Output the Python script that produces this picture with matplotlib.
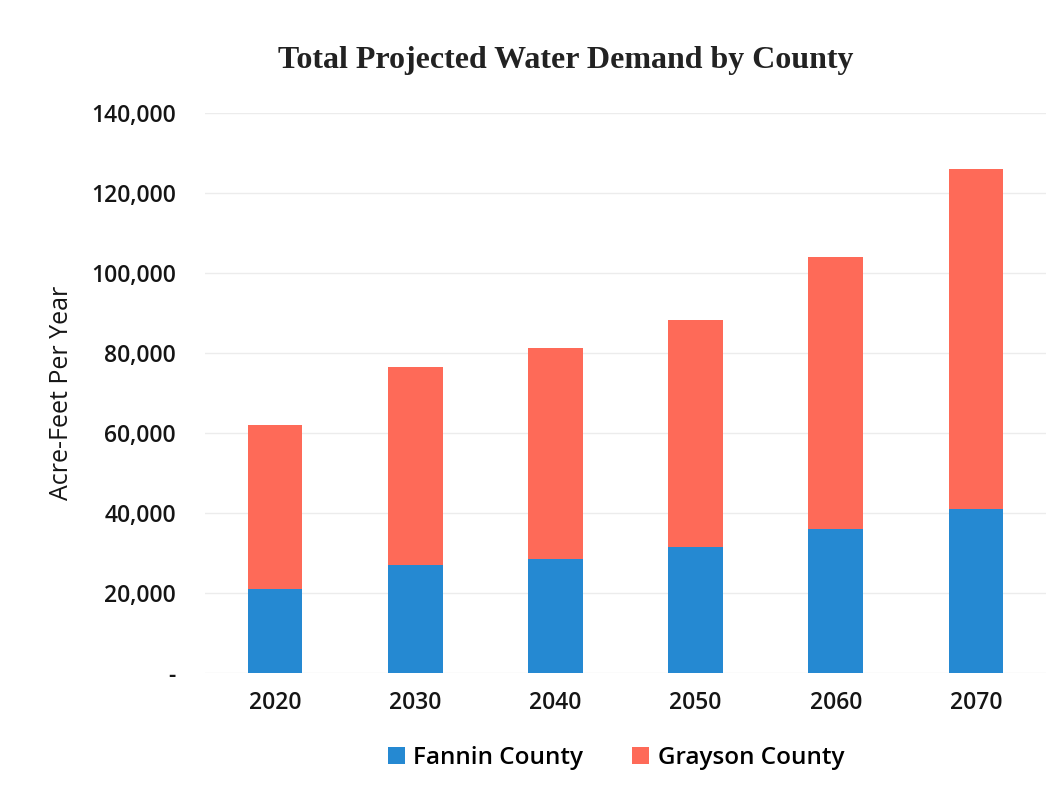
import matplotlib.pyplot as plt
from matplotlib.ticker import FuncFormatter

YEARS = ["2020", "2030", "2040", "2050", "2060", "2070"]
FANNIN = [21000, 27000, 28500, 31400, 35900, 40900]
GRAYSON = [40900, 49550, 52800, 56850, 68200, 85200]

BLUE = "#2589d2"
RED = "#fe6a58"

plt.rcParams["font.family"] = ["Open Sans", "DejaVu Sans"]
plt.rcParams["font.weight"] = "semibold"

fig = plt.figure(figsize=(10.62, 7.86), dpi=100)
ax = fig.add_axes([0.193, 0.1438, 0.792, 0.7124])

x = range(len(YEARS))
ax.bar(x, FANNIN, width=0.39, color=BLUE, label="Fannin County", zorder=2)
ax.bar(x, GRAYSON, width=0.39, bottom=FANNIN, color=RED,
       label="Grayson County", zorder=2)

ax.set_xlim(-0.5, len(YEARS) - 0.5)
ax.set_ylim(0, 140000)
ax.set_yticks(range(0, 140001, 20000))
ax.yaxis.set_major_formatter(
    FuncFormatter(lambda v, _: "-" if v == 0 else f"{int(v):,}"))
ax.set_xticks(list(x))
ax.set_xticklabels(YEARS)

ax.grid(axis="y", color="#ececec", linewidth=1, zorder=0)
for side in ax.spines.values():
    side.set_visible(False)
ax.tick_params(axis="both", length=0, labelsize=16.5, colors="#151515")
ax.tick_params(axis="y", pad=21)
ax.tick_params(axis="x", pad=13)

ax.set_ylabel("Acre-Feet Per Year", fontsize=18, color="#151515",
              fontweight="normal", labelpad=12)

fig.text(0.533, 0.923, "Total Projected Water Demand by County",
         ha="center", va="center", fontsize=23, fontweight="bold",
         family="Liberation Serif", color="#222222")

fig.legend(loc="center", bbox_to_anchor=(0.58, 0.036), ncol=2, frameon=False,
           prop={"size": 17.5, "weight": "semibold"},
           handlelength=0.7, handleheight=0.7, handletextpad=0.35,
           columnspacing=2.0)

fig.savefig("out.png", dpi=100)
